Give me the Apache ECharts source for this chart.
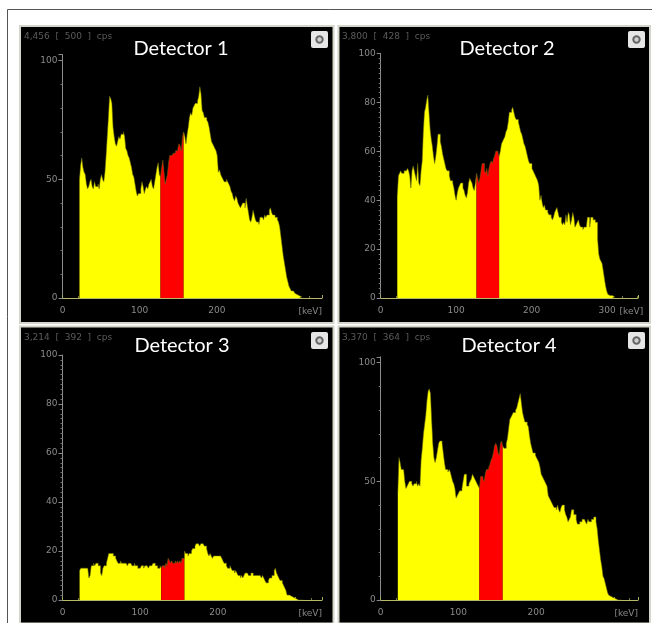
<!DOCTYPE html>
<html><head><meta charset="utf-8">
<style>html,body{margin:0;padding:0;background:#fff;overflow:hidden}#c{width:652px;height:623px;filter:blur(0.45px)}</style>
<script src="https://cdn.jsdelivr.net/npm/echarts@6/dist/echarts.min.js"></script>
</head><body><div id="c"></div>
<script>
const binStart = 22, binWidth = 1.5;
const roiLow = 127, roiHigh = 157;
const titles = ['Detector 1','Detector 2','Detector 3','Detector 4'];
const rates = ['4,456  [  500  ]  cps','3,800  [  428  ]  cps','3,214  [  392  ]  cps','3,370  [  364  ]  cps'];
const detector1 = [50,56,59,55,53,52,48,46,47,49,
 50,47,46,49,47,47,48,46,50,52,
 50,49,53,60,68,76,85,84,82,72,
 68,65,64,66,68,67,69,69,70,68,
 63,62,60,59,57,55,52,51,48,45,
 43,44,44,46,49,47,44,46,47,46,
 48,49,50,47,46,49,52,55,57,52,
 51,55,58,53,48,50,52,57,60,60,
 60,61,61,62,62,63,65,64,62,68,
 70,68,65,69,72,76,78,77,80,81,
 82,82,83,85,89,86,79,78,76,76,
 75,74,72,69,66,65,64,63,62,60,
 53,54,52,51,50,49,49,50,49,48,
 47,45,44,42,41,43,42,40,39,38,
 39,40,40,38,42,39,36,33,32,34,
 37,35,33,32,32,31,34,34,34,33,
 35,34,35,35,37,38,36,35,35,34,
 34,33,32,30,26,22,18,15,12,9,
 7,5,4,3,3,2.5,2,1.5,1.5,1,
 1,0.5,0];
const detector2 = [42,50,51,52,51,51,52,52,52,53,
 52,50,45,52,54,52,50,48,55,47,
 46,52,56,68,76,78,81,83,76,69,
 65,62,58,55,58,62,67,67,64,62,
 59,57,55,53,52,52,50,48,48,47,
 45,42,40,43,45,46,47,47,45,44,
 42,41,43,47,49,48,47,45,44,47,
 51,49,47,49,52,55,55,52,51,53,
 50,53,55,56,55,57,58,60,60,59,
 58,60,63,64,65,66,68,69,72,76,
 76,77,78,76,74,73,73,72,70,68,
 67,65,63,62,60,58,56,55,55,53,
 52,51,50,49,48,46,40,42,39,37,
 38,36,36,35,34,34,33,32,33,35,
 36,37,35,33,33,31,30,31,30,34,
 31,35,34,30,32,35,33,29,30,31,
 32,30,29,29,28,29,29,29,33,33,
 29,33,33,32,32,31,31,24,18,16,
 15,14,11,8,5,3,1.5,1,1,1,
 1,0.5,0];
const detector3 = [12,13,13,13,13,13,13,13,9,10,
 14,14,15,14,15,15,14,14,11,10,
 13,14,14,15,17,19,19,19,19,18,
 18,17,16,15,15,16,15,15,15,15,
 15,14,15,15,15,14,14,15,14,14,
 13,13,13,14,14,13,14,14,14,13,
 14,14,14,15,15,14,14,13,13,14,
 13,14,14,13,15,14,17,16,15,16,
 15,15,16,15,16,15,16,15,17,17,
 20,19,19,18,19,19,20,21,21,22,
 23,23,23,22,23,23,23,22,22,21,
 19,18,19,18,17,18,18,18,18,18,
 18,18,17,16,15,15,14,13,13,14,
 13,12,12,11,12,11,10,10,9,10,
 9,10,11,11,11,10,10,11,11,10,
 10,10,10,10,10,10,9,10,9,8,
 7,7,8,9,9,10,10,12,13,11,
 10,9,8,8,7,6,5,4,2,2,
 2,1.5,1,1,1,0.5,0.5,0,0,0,
 0,0,0];
const detector4 = [45,60,58,55,55,55,50,47,48,49,
 50,50,49,48,49,49,50,48,49,48,
 59,64,70,74,78,84,88,89,87,76,
 66,60,58,60,63,66,67,67,66,62,
 58,55,55,54,55,54,52,50,49,47,
 43,44,45,46,46,47,50,53,53,48,
 48,49,50,51,53,52,51,50,49,48,
 47,52,52,51,50,53,55,55,56,57,
 59,60,62,65,66,65,62,61,66,67,
 65,64,64,66,68,72,76,77,78,79,
 79,80,81,83,85,87,83,79,77,75,
 75,74,73,69,66,64,62,62,61,60,
 59,58,56,53,52,51,50,49,48,44,
 43,42,41,40,39,39,38,40,38,37,
 39,40,40,38,36,35,33,34,35,38,
 38,36,36,34,32,32,33,33,34,34,
 34,33,32,34,33,33,34,34,35,35,
 33,30,25,21,17,14,10,9,7,5,
 3,2,1.5,1,1,0.5,0.5,0,0,0,
 0,0,0];
const allCounts = [detector1,detector2,detector3,detector4];
const xMaxes = [336.3,341,334,331];
const yMaxes = [102.5,100,100,102.5];
const yIntervals = [50,20,20,50];
const showXTop = [false,true,false,false];

const grids = [
 {left:62.5,top:54.7,width:259.5,height:243.3},
 {left:380.7,top:53.5,width:257.3,height:244.5},
 {left:62.5,top:355,width:259.5,height:245},
 {left:380.7,top:356.8,width:257.3,height:243.2}
];
const panels = [
 {x:20,y:26,w:313.5,h:297},{x:338.5,y:26,w:311.5,h:297},
 {x:20,y:326.5,w:313.5,h:297},{x:338.5,y:326.5,w:311.5,h:297}
];
const titleCx = [181,507,182,509], titleCy = [49,49,346,346];
const rateX = [24,342,24,342], rateY = [32,32,333,333];
const iconX = [311,628,311,628], iconY = [31,31,332,332];

const series=[], xAxis=[], yAxis=[], graphic=[];
graphic.push({type:'line',silent:true,z:-10,shape:{x1:7.5,y1:9.5,x2:652,y2:9.5},style:{stroke:'#555',lineWidth:1}});
graphic.push({type:'line',silent:true,z:-10,shape:{x1:7.5,y1:9.5,x2:7.5,y2:623},style:{stroke:'#555',lineWidth:1}});

allCounts.forEach((counts,i)=>{
  const p=panels[i];
  graphic.push({type:'rect',silent:true,z:-9,shape:{x:p.x,y:p.y,width:p.w,height:p.h},style:{fill:'#000',stroke:'#d4d4ca',lineWidth:2}});
  graphic.push({type:'text',silent:true,z:5,style:{x:rateX[i],y:rateY[i],text:rates[i],fill:'#5c5c5c',font:'9px "DejaVu Sans"'}});
  graphic.push({type:'text',silent:true,z:5,style:{x:titleCx[i],y:titleCy[i],text:titles[i],fill:'#fff',font:'20px Lato',align:'center',verticalAlign:'middle'}});
  graphic.push({type:'rect',silent:true,z:5,shape:{x:iconX[i],y:iconY[i],width:17,height:17,r:2},style:{fill:'#e6e6e6'}});
  graphic.push({type:'circle',silent:true,z:6,shape:{cx:iconX[i]+8.5,cy:iconY[i]+8.5,r:3.2},style:{fill:'#d0d0d0',stroke:'#666',lineWidth:2}});

  xAxis.push({gridIndex:i,type:'value',min:0,max:xMaxes[i],interval:100,
    name:'[keV]',nameLocation:'end',nameGap:0,
    nameTextStyle:{color:'#8a8a8a',fontSize:9,fontFamily:'DejaVu Sans',align:'right',verticalAlign:'top',padding:[9,0,0,0]},
    splitLine:{show:false},
    axisLine:{onZero:false,lineStyle:{color:'#b8b868',width:1}},
    axisTick:{show:true,length:3,inside:true,lineStyle:{color:'#a9a95a'}},
    minorTick:{show:true,splitNumber:5,length:2,lineStyle:{color:'#77773f'}},
    axisLabel:{color:'#8a8a8a',fontSize:9,fontFamily:'DejaVu Sans',margin:8,
      formatter:v=>(v%100===0&&(v<300||showXTop[i]))?String(v):''}});
  yAxis.push({gridIndex:i,type:'value',min:0,max:yMaxes[i],interval:yIntervals[i],
    splitLine:{show:false},
    axisLine:{show:true,lineStyle:{color:'#8c8c8c',width:1}},
    axisTick:{show:true,length:4,lineStyle:{color:'#8c8c8c'}},
    minorTick:{show:true,splitNumber:yIntervals[i]===50?5:10,length:2,lineStyle:{color:'#777'}},
    axisLabel:{color:'#8a8a8a',fontSize:9,fontFamily:'DejaVu Sans',margin:5,
      formatter:v=>v%yIntervals[i]===0?String(v):''}});

  const pts=counts.map((v,k)=>[binStart+k*binWidth,v]);
  const low=pts.filter(d=>d[0]<=roiLow), roi=pts.filter(d=>d[0]>=roiLow&&d[0]<=roiHigh), high=pts.filter(d=>d[0]>=roiHigh);
  [[low,'#ffff00'],[roi,'#ff0000'],[high,'#ffff00']].forEach(([data,color])=>{
    series.push({type:'line',xAxisIndex:i,yAxisIndex:i,data,step:'end',showSymbol:false,symbol:'none',silent:true,
      lineStyle:{color:'#6b6b10',width:0.6,opacity:0.9},areaStyle:{color,opacity:1},z:3});
  });
});

const chart=echarts.init(document.getElementById('c'),null,{renderer:'canvas'});
chart.setOption({animation:false,backgroundColor:'#fff',tooltip:{show:false},grid:grids,xAxis,yAxis,series,graphic});
</script></body></html>
